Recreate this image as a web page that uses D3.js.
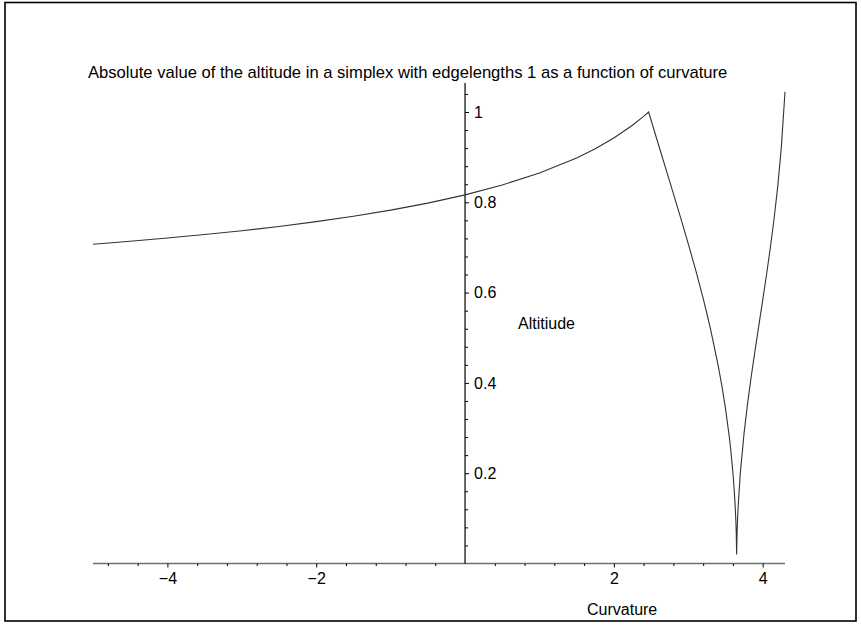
<!DOCTYPE html>
<html>
<head>
<meta charset="utf-8">
<script src="https://cdn.jsdelivr.net/npm/d3@7"></script>
<style>
  html, body { margin: 0; padding: 0; background: #fff; }
  svg text { font-family: "Liberation Sans", Arial, Helvetica, sans-serif; fill: #000; }
</style>
</head>
<body>
<svg id="chart" width="861" height="626"></svg>
<script>
// ---- data ----
const curvature = [-5, -4.5, -4, -3.5, -3, -2.5, -2, -1.5, -1, -0.5,
  0, 0.5, 1, 1.5, 1.75, 2, 2.25, 2.4, 2.467,
  2.6, 2.75, 2.9, 3, 3.1, 3.2, 3.25, 3.3, 3.4, 3.45, 3.5, 3.55, 3.57, 3.6, 3.62, 3.63,
  3.64, 3.645, 3.65, 3.655, 3.66, 3.67, 3.7, 3.75, 3.8, 3.85, 3.9,
  3.95, 4.0, 4.05, 4.1, 4.15, 4.2, 4.25, 4.3];
const altitude = [0.707, 0.7137, 0.7208, 0.7286, 0.7370, 0.7465, 0.7571, 0.7690, 0.7826, 0.7982,
  0.8165, 0.8383, 0.8648, 0.8983, 0.9187, 0.9424, 0.9706, 0.9903, 1.0,
  0.9274, 0.8463, 0.7643, 0.7080, 0.6496, 0.5870, 0.5537, 0.5185, 0.4401, 0.3949, 0.3435, 0.2820, 0.2530, 0.2010, 0.1568, 0.1287,
  0.0923, 0.0671, 0.0201, 0.0604, 0.0877, 0.1259, 0.2019, 0.2888, 0.3579, 0.4186, 0.4749,
  0.5291, 0.5829, 0.6379, 0.6958, 0.7591, 0.8315, 0.9200, 1.045];

const xMajorTicks = [-4, -2, 2, 4];
const xMajorLabels = ["\u22124", "\u22122", "2", "4"];
const xMinorTicks = [-4.8, -4.4, -3.6, -3.2, -2.8, -2.4, -1.6, -1.2, -0.8, -0.4,
  0.4, 0.8, 1.2, 1.6, 2.4, 2.8, 3.2, 3.6];
const yMajorTicks = [0.2, 0.4, 0.6, 0.8, 1];
const yMajorLabels = ["0.2", "0.4", "0.6", "0.8", "1"];
const yMinorTicks = [0.04, 0.08, 0.12, 0.16, 0.24, 0.28, 0.32, 0.36, 0.44, 0.48, 0.52, 0.56,
  0.64, 0.68, 0.72, 0.76, 0.84, 0.88, 0.92, 0.96, 1.04];

const titleText = "Absolute value of the altitude in a simplex with edgelengths 1 as a function of curvature";
const xLabel = "Curvature";
const yLabel = "Altitiude";

// ---- drawing ----
const svg = d3.select("#chart");

svg.append("rect")
  .attr("x", 5).attr("y", 2.5).attr("width", 851).attr("height", 618.5)
  .attr("fill", "none").attr("stroke", "#000").attr("stroke-width", 1.6);

const x = d3.scaleLinear().domain([-5, 4.3]).range([93, 785]);
const y = d3.scaleLinear().domain([0, 1]).range([563.5, 112]);
const yAxisTop = 1.064;

// x axis line (gray, a bit thicker)
const gx = svg.append("g").attr("transform", `translate(0,${y(0)})`);
gx.append("line")
  .attr("x1", x.range()[0]).attr("x2", x.range()[1])
  .attr("stroke", "#6e6e6e").attr("stroke-width", 1.6);

const xMajorAxis = d3.axisBottom(x).tickValues(xMajorTicks)
  .tickFormat((d, i) => xMajorLabels[i]).tickSize(4).tickSizeOuter(0).tickPadding(5);
const gxm = gx.append("g").call(xMajorAxis);
gxm.select(".domain").remove();
gxm.selectAll("text").attr("font-size", 16).attr("fill", "#000")
  .style("font-family", '"Liberation Sans", Arial, sans-serif');
gxm.selectAll("line").attr("stroke", "#000");

const xMinorAxis = d3.axisBottom(x).tickValues(xMinorTicks).tickFormat("").tickSize(2.5).tickSizeOuter(0);
const gxn = gx.append("g").call(xMinorAxis);
gxn.select(".domain").remove();
gxn.selectAll("line").attr("stroke", "#000");

// y axis at x = 0
const yAxisScale = y.copy().domain([0, yAxisTop]).range([y(0), y(yAxisTop)]);
const gy = svg.append("g").attr("transform", `translate(${x(0)},0)`);
gy.append("line")
  .attr("y1", yAxisScale.range()[0]).attr("y2", yAxisScale.range()[1])
  .attr("stroke", "#000").attr("stroke-width", 1.2);

const yMajorAxis = d3.axisRight(yAxisScale).tickValues(yMajorTicks)
  .tickFormat((d, i) => yMajorLabels[i]).tickSize(4).tickSizeOuter(0).tickPadding(5);
const gym = gy.append("g").call(yMajorAxis);
gym.select(".domain").remove();
gym.selectAll("text").attr("font-size", 16).attr("fill", "#000")
  .style("font-family", '"Liberation Sans", Arial, sans-serif');
gym.selectAll("line").attr("stroke", "#000");

const yMinorAxis = d3.axisRight(yAxisScale).tickValues(yMinorTicks).tickFormat("").tickSize(3).tickSizeOuter(0);
const gyn = gy.append("g").call(yMinorAxis);
gyn.select(".domain").remove();
gyn.selectAll("line").attr("stroke", "#000");

// curve
const pts = curvature.map((k, i) => [k, altitude[i]]);
const line = d3.line().x(d => x(d[0])).y(d => y(d[1])).curve(d3.curveLinear);
svg.append("path")
  .datum(pts)
  .attr("d", line)
  .attr("fill", "none")
  .attr("stroke", "#333")
  .attr("stroke-width", 1.1)
  .attr("stroke-linejoin", "miter");

// texts
svg.append("text").attr("x", 88).attr("y", 78).attr("font-size", 16.6).text(titleText);
svg.append("text").attr("x", 518).attr("y", 329).attr("font-size", 16).text(yLabel);
svg.append("text").attr("x", 587).attr("y", 615).attr("font-size", 16).text(xLabel);
</script>
</body>
</html>
